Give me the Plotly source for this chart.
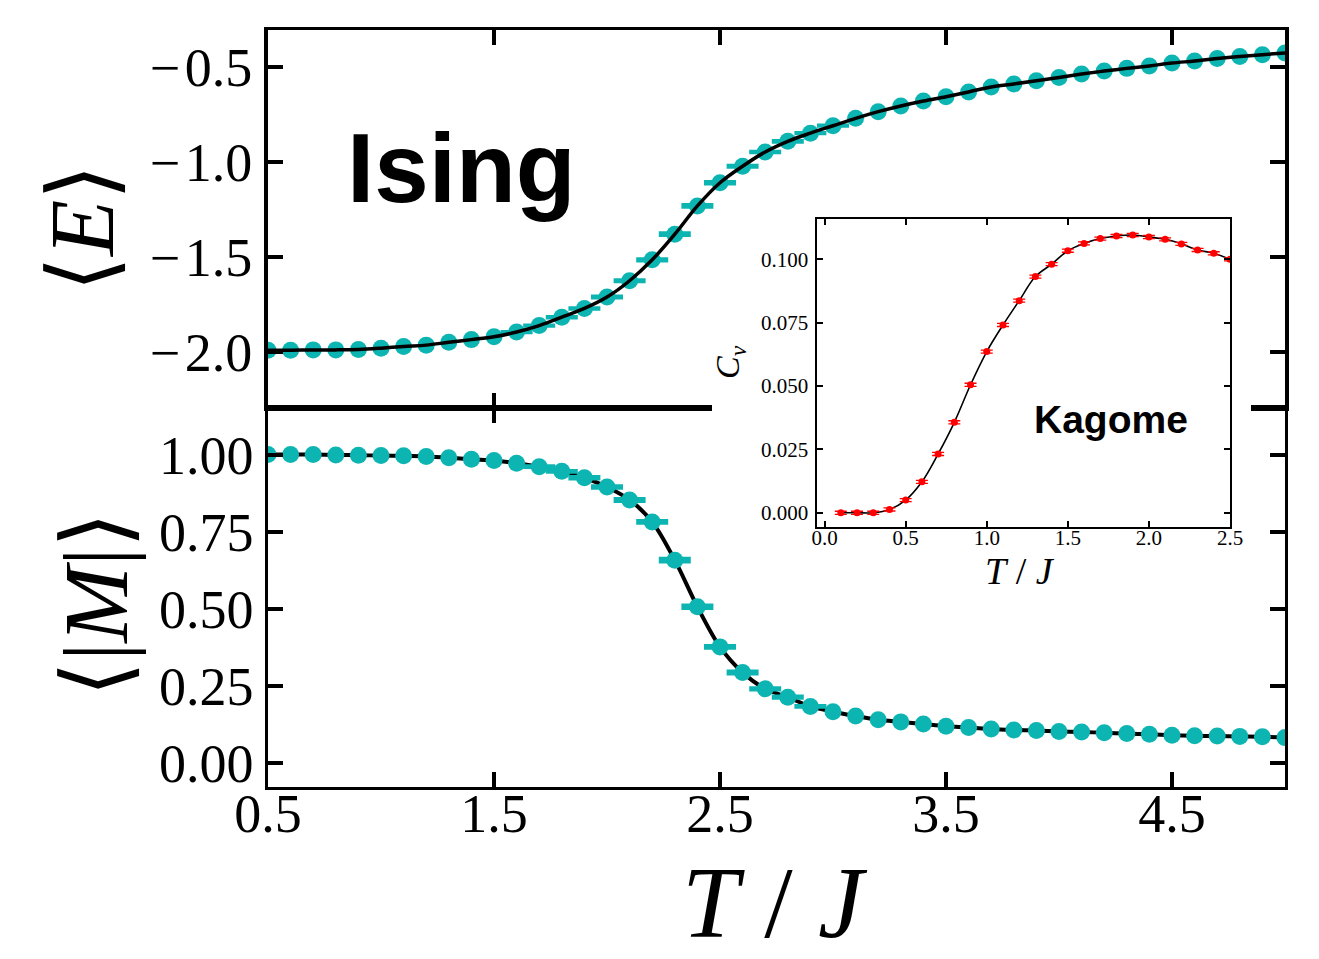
import plotly.graph_objects as go

# Ising model, 2D square lattice
isingT = [0.5, 0.6, 0.7, 0.8, 0.9, 1.0, 1.1, 1.2, 1.3, 1.4, 1.5, 1.6, 1.7, 1.8, 1.9,
          2.0, 2.1, 2.2, 2.3, 2.4, 2.5, 2.6, 2.7, 2.8, 2.9, 3.0, 3.1, 3.2, 3.3, 3.4,
          3.5, 3.6, 3.7, 3.8, 3.9, 4.0, 4.1, 4.2, 4.3, 4.4, 4.5, 4.6, 4.7, 4.8, 4.9, 5.0]
energy = [-1.992, -1.992, -1.990, -1.990, -1.988, -1.981, -1.972, -1.965, -1.950, -1.936,
          -1.921, -1.896, -1.862, -1.818, -1.772, -1.712, -1.626, -1.516, -1.381, -1.232,
          -1.110, -1.023, -0.948, -0.892, -0.849, -0.810, -0.771, -0.736, -0.706, -0.680,
          -0.657, -0.632, -0.606, -0.590, -0.573, -0.556, -0.538, -0.522, -0.508, -0.495,
          -0.480, -0.469, -0.456, -0.445, -0.436, -0.427]
energyErr = [0, 0, 0, 0, 0, 0, 0, 0, 0, 0,
             0, 0.002, 0.002, 0.003, 0.003, 0.004, 0.004, 0.005, 0.006, 0.006,
             0.005, 0.004, 0.003, 0.003, 0.002, 0.002, 0, 0, 0, 0,
             0, 0, 0, 0, 0, 0, 0, 0, 0, 0,
             0, 0, 0, 0, 0, 0]
magnet = [1.000, 1.000, 1.000, 0.999, 0.998, 0.997, 0.996, 0.994, 0.990, 0.985,
          0.981, 0.972, 0.961, 0.946, 0.925, 0.895, 0.853, 0.782, 0.658, 0.507,
          0.377, 0.294, 0.241, 0.214, 0.184, 0.167, 0.153, 0.141, 0.134, 0.127,
          0.120, 0.116, 0.111, 0.108, 0.106, 0.103, 0.101, 0.099, 0.096, 0.094,
          0.091, 0.089, 0.088, 0.087, 0.086, 0.083]
magnetErr = [0, 0, 0, 0, 0, 0, 0, 0, 0, 0,
             0, 0, 0.002, 0.002, 0.003, 0.003, 0.004, 0.004, 0.005, 0.005,
             0.004, 0.004, 0.003, 0.003, 0.002, 0, 0, 0, 0, 0,
             0, 0, 0, 0, 0, 0, 0, 0, 0, 0,
             0, 0, 0, 0, 0, 0]

# Kagome inset, specific heat
kagomeT = [0.1, 0.2, 0.3, 0.4, 0.5, 0.6, 0.7, 0.8, 0.9, 1.0, 1.1, 1.2, 1.3,
           1.4, 1.5, 1.6, 1.7, 1.8, 1.9, 2.0, 2.1, 2.2, 2.3, 2.4, 2.5]
heatCap = [0.0000, 0.0000, 0.0000, 0.0013, 0.0050, 0.0122, 0.0232, 0.0357, 0.0505, 0.0636,
           0.0741, 0.0837, 0.0932, 0.0981, 0.1034, 0.1063, 0.1082, 0.1092, 0.1096, 0.1088,
           0.1079, 0.1061, 0.1037, 0.1024, 0.1000]
heatCapErr = [0.0006] * 25

xTicks = [0.5, 1.5, 2.5, 3.5, 4.5]
eTicks = [-2.0, -1.5, -1.0, -0.5]
mTicks = [0.0, 0.25, 0.5, 0.75, 1.0]
insetXTicks = [0.0, 0.5, 1.0, 1.5, 2.0, 2.5]
insetYTicks = [0.0, 0.025, 0.05, 0.075, 0.1]

TEAL = '#0db5b2'
SERIF = 'Liberation Serif, DejaVu Serif, serif'
SANS = 'Liberation Sans, Arial, sans-serif'
W, H = 1319, 959
OFF = 8  # page body margin


def px2x(p):
    return (p - OFF) / W


def px2y(p):
    return 1 - (p - OFF) / H


def withErrors(xs, ys, errs):
    keep = [i for i in range(len(xs)) if errs[i] > 0]
    return [xs[i] for i in keep], [ys[i] for i in keep], [errs[i] for i in keep]


def mainAxis(lw, **kw):
    ax = dict(showgrid=False, zeroline=False, showline=True, linecolor='black', linewidth=lw,
              mirror='allticks', ticks='inside', ticklen=15, tickwidth=3.5, tickcolor='black',
              tickmode='array', automargin=False,
              tickfont=dict(family=SERIF, size=54, color='black'))
    ax.update(kw)
    return ax


def insetAxis(**kw):
    ax = dict(showgrid=False, zeroline=False, showline=True, linecolor='black', linewidth=2,
              mirror='allticks', ticks='inside', ticklen=6, tickwidth=1.5, tickcolor='black',
              tickmode='array', automargin=False,
              tickfont=dict(family=SERIF, size=21, color='black'))
    ax.update(kw)
    return ax


fig = go.Figure()

# top panel : energy
ex, ey, ee = withErrors(isingT, energy, energyErr)
fig.add_trace(go.Scatter(x=ex, y=ey, mode='markers', marker=dict(size=1, color=TEAL),
                         error_y=dict(type='data', array=ee, color=TEAL, thickness=3.5, width=16),
                         xaxis='x', yaxis='y'))
fig.add_trace(go.Scatter(x=isingT, y=energy, mode='markers', marker=dict(size=17, color=TEAL),
                         xaxis='x', yaxis='y'))
fig.add_trace(go.Scatter(x=isingT, y=energy, mode='lines', line=dict(color='black', width=3.5, shape='spline'),
                         xaxis='x', yaxis='y'))

# bottom panel : magnetisation
fig.add_trace(go.Scatter(x=isingT, y=magnet, mode='lines', line=dict(color='black', width=4, shape='spline'),
                         xaxis='x2', yaxis='y2'))
mx, my, me = withErrors(isingT, magnet, magnetErr)
fig.add_trace(go.Scatter(x=mx, y=my, mode='markers', marker=dict(size=1, color=TEAL),
                         error_y=dict(type='data', array=me, color=TEAL, thickness=3.5, width=16),
                         xaxis='x2', yaxis='y2'))
fig.add_trace(go.Scatter(x=isingT, y=magnet, mode='markers', marker=dict(size=17, color=TEAL),
                         xaxis='x2', yaxis='y2'))

# empty subplot whose white background hides the panels behind the inset
fig.add_trace(go.Scatter(x=[], y=[], xaxis='x3', yaxis='y3'))

# inset : kagome specific heat
fig.add_trace(go.Scatter(x=kagomeT, y=heatCap, mode='lines', line=dict(color='black', width=1.6, shape='spline'),
                         xaxis='x4', yaxis='y4'))
fig.add_trace(go.Scatter(x=kagomeT, y=heatCap, mode='markers', marker=dict(size=7, color='#ff0000'),
                         error_y=dict(type='data', array=heatCapErr, color='#ff0000', thickness=1.3, width=6),
                         xaxis='x4', yaxis='y4'))

fig.update_layout(
    width=W, height=H, margin=dict(l=0, r=0, t=0, b=0, autoexpand=False),
    paper_bgcolor='white', plot_bgcolor='white', showlegend=False,
    xaxis=mainAxis(3, domain=[px2x(268), px2x(1285)], range=[0.5, 5.0], anchor='y',
                   tickvals=xTicks, showticklabels=False),
    yaxis=mainAxis(4, domain=[px2y(408), px2y(30)], range=[-2.296, -0.306], anchor='x',
                   tickvals=eTicks,
                   ticktext=['\u2212\u200a2.0', '\u2212\u200a1.5', '\u2212\u200a1.0', '\u2212\u200a0.5'],
                   ticklabelstandoff=1),
    xaxis2=mainAxis(3, domain=[px2x(268), px2x(1285)], range=[0.5, 5.0], anchor='y2',
                    tickvals=xTicks, ticktext=['0.5', '1.5', '2.5', '3.5', '4.5'], ticklabelstandoff=-23),
    yaxis2=mainAxis(2.5, domain=[px2y(787), px2y(408)], range=[-0.077, 1.151], anchor='x2',
                    tickvals=mTicks, ticktext=['0.00', '0.25', '0.50', '0.75', '1.00'],
                    ticklabelstandoff=1),
    xaxis3=dict(domain=[px2x(712), px2x(1251)], anchor='y3', visible=False, range=[0, 1]),
    yaxis3=dict(domain=[px2y(595), px2y(210)], anchor='x3', visible=False, range=[0, 1]),
    xaxis4=insetAxis(domain=[px2x(816.5), px2x(1230)], range=[-0.05, 2.5], anchor='y4',
                     tickvals=insetXTicks, ticktext=['0.0', '0.5', '1.0', '1.5', '2.0', '2.5'],
                     ticklabelstandoff=-9),
    yaxis4=insetAxis(domain=[px2y(526.7), px2y(219.3)], range=[-0.0055, 0.1158], anchor='x4',
                     tickvals=insetYTicks, ticktext=['0.000', '0.025', '0.050', '0.075', '0.100'],
                     ticklabelstandoff=2),
)

notes = [
    dict(text='\u27e8<i>E</i>\u27e9', x=px2x(82), y=px2y(228), textangle=-90,
         font=dict(family=SERIF, size=92, color='black')),
    dict(text='\u27e8|<i>M</i>|\u27e9', x=px2x(96), y=px2y(605), textangle=-90,
         font=dict(family=SERIF, size=92, color='black')),
    dict(text='<i>T</i> / <i>J</i>', x=px2x(775), y=px2y(902),
         font=dict(family=SERIF, size=102, color='black')),
    dict(text='<b>Ising</b>', x=px2x(345), y=px2y(168), xanchor='left',
         font=dict(family=SANS, size=98, color='black')),
    dict(text='<b>Kagome</b>', x=px2x(1111), y=px2y(420),
         font=dict(family=SANS, size=39, color='black')),
    dict(text='<i>T</i> / <i>J</i>', x=px2x(1020), y=px2y(571),
         font=dict(family=SERIF, size=38, color='black')),
    dict(text='<i>C<sub>v</sub></i>', x=px2x(730), y=px2y(362), textangle=-90,
         font=dict(family=SERIF, size=34, color='black')),
]
for n in notes:
    n.setdefault('xanchor', 'center')
    n.update(xref='paper', yref='paper', yanchor='middle', showarrow=False)
    fig.add_annotation(**n)

fig.write_html("out.html")
